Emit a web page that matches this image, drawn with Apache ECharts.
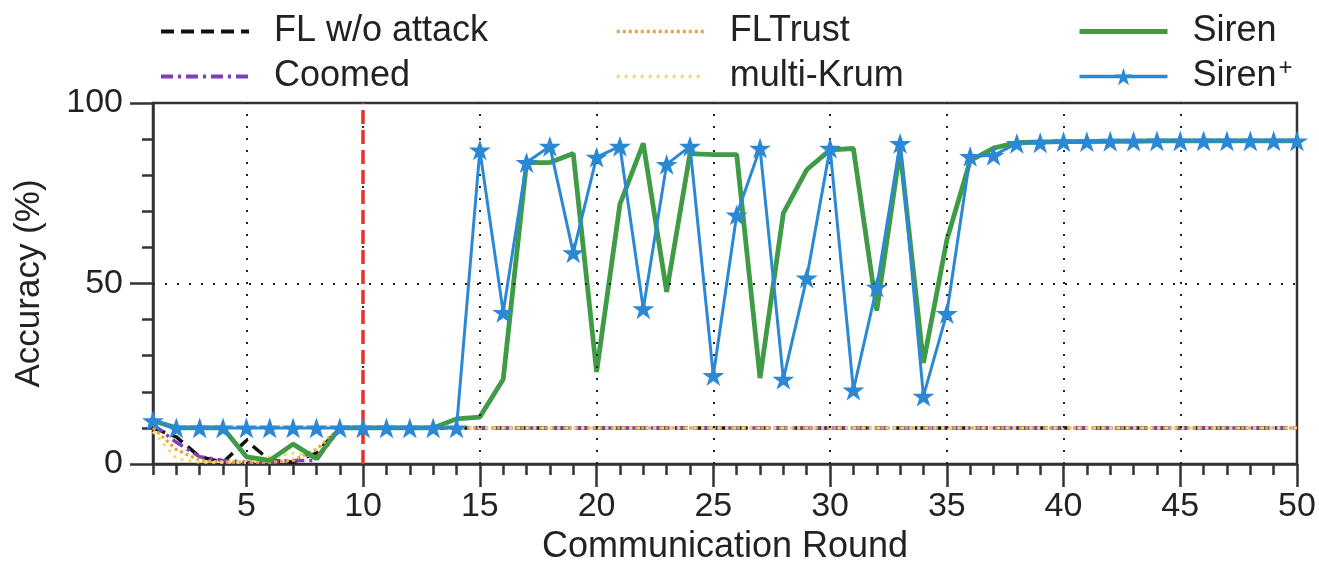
<!DOCTYPE html>
<html>
<head>
<meta charset="utf-8">
<script src="https://cdn.jsdelivr.net/npm/echarts@6/dist/echarts.min.js"></script>
<style>
  html, body { margin: 0; padding: 0; background: #fff; }
  #chart { width: 1319px; height: 570px; }
</style>
</head>
<body>
<div id="chart"></div>
<script>
// Communication rounds (x axis)
const rounds = [1, 2, 3, 4, 5, 6, 7, 8, 9, 10, 11, 12, 13, 14, 15, 16, 17, 18, 19, 20,
  21, 22, 23, 24, 25, 26, 27, 28, 29, 30, 31, 32, 33, 34, 35, 36, 37, 38, 39, 40,
  41, 42, 43, 44, 45, 46, 47, 48, 49, 50];

// Test accuracy (%) per round
const flNoAttack = [10, 7.5, 2, 0.5, 6.5, 1, 0.5, 3, 10, 10, 10, 10, 10, 10, 10, 10, 10, 10, 10, 10,
  10, 10, 10, 10, 10, 10, 10, 10, 10, 10, 10, 10, 10, 10, 10, 10, 10, 10, 10, 10,
  10, 10, 10, 10, 10, 10, 10, 10, 10, 10];
const coomed = [11, 6, 2, 1, 0.5, 0.5, 1, 1, 10, 10, 10, 10, 10, 10, 10, 10, 10, 10, 10, 10,
  10, 10, 10, 10, 10, 10, 10, 10, 10, 10, 10, 10, 10, 10, 10, 10, 10, 10, 10, 10,
  10, 10, 10, 10, 10, 10, 10, 10, 10, 10];
const flTrust = [10, 4, 1, 0.5, 0.5, 0.5, 1, 4, 10, 10, 10, 10, 10, 10, 10, 10, 10, 10, 10, 10,
  10, 10, 10, 10, 10, 10, 10, 10, 10, 10, 10, 10, 10, 10, 10, 10, 10, 10, 10, 10,
  10, 10, 10, 10, 10, 10, 10, 10, 10, 10];
const multiKrum = [9, 1.5, 0.5, 0.5, 0.5, 2, 3, 2, 10, 10, 10, 10, 10, 10, 10, 10, 10, 10, 10, 10,
  10, 10, 10, 10, 10, 10, 10, 10, 10, 10, 10, 10, 10, 10, 10, 10, 10, 10, 10, 10,
  10, 10, 10, 10, 10, 10, 10, 10, 10, 10];
const siren = [12, 10, 10, 10, 2, 1, 5.5, 1.5, 10, 10, 10, 10, 10, 12.5, 13, 23.5, 83.5, 83.5, 86, 25.5,
  72, 88.8, 47.7, 86, 85.7, 85.7, 23.8, 69.5, 81.5, 87, 87.4, 42.5, 87, 28, 62, 84, 87.5, 89, 89.2, 89.3,
  89.3, 89.4, 89.4, 89.5, 89.5, 89.5, 89.5, 89.5, 89.5, 89.5];
const sirenPlus = [12, 10, 10, 10, 10, 10, 10, 10, 10, 10, 10, 10, 10, 10, 87, 42, 83.5, 88, 58.5, 85,
  88, 43, 83, 88, 24.5, 69, 87.5, 23.5, 51.5, 87.5, 20.5, 49, 88.8, 18.8, 41.7, 85.2, 85.5, 88.8, 89, 89.3,
  89.3, 89.4, 89.4, 89.5, 89.5, 89.5, 89.5, 89.5, 89.5, 89.5];

// Axis ticks / labels / guides
const xMajorTicks = [5, 10, 15, 20, 25, 30, 35, 40, 45, 50];
const xGridLines = [5, 10, 15, 20, 25, 30, 35, 40, 45];
const yGridLines = [50];
const attackRound = 10;

const FONT = '"Liberation Sans", Arial, Helvetica, sans-serif';
const INK = '#333';
const STAR = 'path://M50,0 L61.8,35.5 L99,35.5 L69,57.5 L80.5,93 L50,71 L19.5,93 L31,57.5 L1,35.5 L38.2,35.5 Z';

const pairs = (ys) => rounds.map((r, i) => [r, ys[i]]);
// legend entry drawn as a bare line sample (no marker)
const lineOnly = (name, width) => ({
  name,
  itemStyle: { color: 'rgba(0,0,0,0)', borderColor: 'rgba(0,0,0,0)', borderWidth: 0 },
  lineStyle: { width }
});

const legendBase = {
  orient: 'vertical',
  top: 6,
  itemWidth: 88,
  itemHeight: 22,
  itemGap: 4,
  textStyle: { fontFamily: FONT, fontSize: 36, lineHeight: 41, color: '#222', padding: [0, 0, 0, 20] }
};

const chart = echarts.init(document.getElementById('chart'), null, { renderer: 'canvas' });

chart.setOption({
  animation: false,
  backgroundColor: '#fff',
  textStyle: { fontFamily: FONT },
  grid: {
    left: 153, right: 22, top: 103, bottom: 106,
    show: true, borderColor: INK, borderWidth: 2.5, backgroundColor: 'transparent'
  },
  legend: [
    Object.assign({}, legendBase, { left: 154, data: [lineOnly('FL w/o attack', 4), lineOnly('Coomed', 4)] }),
    Object.assign({}, legendBase, { left: 610, data: [lineOnly('FLTrust', 3.5), lineOnly('multi-Krum', 3.5)] }),
    Object.assign({}, legendBase, {
      left: 1072,
      data: [lineOnly('Siren', 5), { name: 'Siren+', lineStyle: { width: 3.5 } }],
      formatter: (name) => name === 'Siren+' ? 'Siren{sup|+}' : name,
      textStyle: Object.assign({}, legendBase.textStyle, {
        rich: { sup: { fontFamily: FONT, fontSize: 24, color: '#222', verticalAlign: 'top', lineHeight: 14, padding: [0, 0, 0, 2] } }
      })
    })
  ],
  xAxis: [
    {
      type: 'value', min: 1, max: 50,
      name: 'Communication Round', nameLocation: 'middle', nameGap: 61,
      nameTextStyle: { fontSize: 36, color: '#222', fontFamily: FONT },
      axisLine: { lineStyle: { color: INK, width: 2.5 } },
      axisTick: { customValues: xMajorTicks, length: 23, lineStyle: { color: INK, width: 2.5 } },
      axisLabel: { customValues: xMajorTicks, fontSize: 34, color: '#222', margin: 26 },
      splitLine: { show: false }
    },
    {
      type: 'value', min: 1, max: 50, position: 'bottom',
      axisLine: { show: false },
      axisTick: { customValues: rounds, length: 11, lineStyle: { color: INK, width: 2.5 } },
      axisLabel: { show: false },
      splitLine: { show: false }
    }
  ],
  yAxis: {
    type: 'value', min: 0, max: 100, interval: 50,
    name: 'Accuracy (%)', nameLocation: 'middle', nameGap: 106,
    nameTextStyle: { fontSize: 35, color: '#222', fontFamily: FONT },
    axisLine: { lineStyle: { color: INK, width: 2.5 } },
    axisTick: { length: 23, lineStyle: { color: INK, width: 2.5 } },
    minorTick: { show: true, splitNumber: 5, length: 11, lineStyle: { color: INK, width: 2.5 } },
    axisLabel: { fontSize: 34, color: '#222', margin: 30 },
    splitLine: { show: false }
  },
  series: [
    {
      // dotted guide lines
      name: 'guides', type: 'line', data: [], z: 1, silent: true,
      markLine: {
        silent: true, symbol: 'none', label: { show: false },
        lineStyle: { color: '#222', width: 2, type: [2, 10] },
        data: xGridLines.map(v => ({ xAxis: v })).concat(yGridLines.map(v => ({ yAxis: v })))
      }
    },
    {
      // round at which the attack starts
      name: 'attack', type: 'line', data: [], z: 3, silent: true,
      markLine: {
        silent: true, symbol: 'none', label: { show: false },
        lineStyle: { color: '#e8312f', width: 3.5, type: [14, 6] },
        data: [{ xAxis: attackRound }]
      }
    },
    {
      name: 'FL w/o attack', type: 'line', data: pairs(flNoAttack), symbol: 'none', z: 2,
      itemStyle: { color: '#111' },
      lineStyle: { color: '#111', width: 3.5, type: [13, 7] }
    },
    {
      name: 'Coomed', type: 'line', data: pairs(coomed), symbol: 'none', z: 2,
      itemStyle: { color: '#7e3fb8' },
      lineStyle: { color: '#7e3fb8', width: 3.5, type: [12, 5, 3, 5] }
    },
    {
      name: 'FLTrust', type: 'line', data: pairs(flTrust), symbol: 'none', z: 2,
      itemStyle: { color: '#e9a53a' },
      lineStyle: { color: '#e9a53a', width: 3.2, type: [3, 3] }
    },
    {
      name: 'multi-Krum', type: 'line', data: pairs(multiKrum), symbol: 'none', z: 2,
      itemStyle: { color: '#f2dc6a' },
      lineStyle: { color: '#f2dc6a', width: 3, type: [3, 5] }
    },
    {
      name: 'Siren', type: 'line', data: pairs(siren), symbol: 'none', z: 4,
      itemStyle: { color: '#3f9b46' },
      lineStyle: { color: '#3f9b46', width: 4.8 }
    },
    {
      name: 'Siren+', type: 'line', data: pairs(sirenPlus), z: 5,
      symbol: STAR, symbolSize: 22, showSymbol: true, showAllSymbol: true, symbolKeepAspect: true,
      itemStyle: { color: '#2b88d4' },
      lineStyle: { color: '#2b88d4', width: 3 }
    }
  ]
});
</script>
</body>
</html>
